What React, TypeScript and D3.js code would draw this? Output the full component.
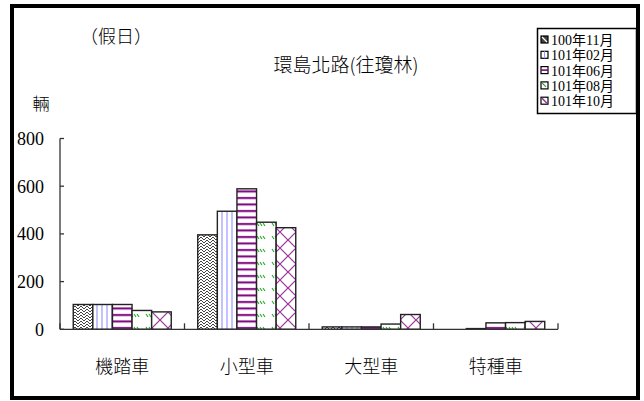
import React from 'react';
import * as d3 from 'd3';

// vehicle categories and monthly holiday counts
const categories = ['機踏車', '小型車', '大型車', '特種車'];
const seriesNames = ['100年11月', '101年02月', '101年06月', '101年08月', '101年10月'];
const s1 = [104, 396, 10, 0];
const s2 = [104, 495, 10, 3];
const s3 = [104, 589, 10, 27];
const s4 = [79, 449, 22, 28];
const s5 = [73, 426, 62, 33];
const seriesValues = [s1, s2, s3, s4, s5];
const yTicks = [0, 200, 400, 600, 800];

const W = 644;
const H = 401;
const plot = { left: 60, right: 558, top: 138.5, bottom: 329.3 };

const serifCjk = '"Liberation Serif", "Noto Sans CJK TC", serif';
const cjk = '"Noto Sans CJK TC", "Liberation Serif", serif';

function Patterns() {
  return (
    <defs>
      {/* dark herringbone */}
      <pattern id="pat0" patternUnits="userSpaceOnUse" width="6" height="6">
        <rect width="6" height="6" fill="#fff" />
        <path d="M0,3 L3,0 L6,3 M0,6 L3,3 L6,6" stroke="#444" strokeWidth="1" fill="none" />
      </pattern>
      {/* blue vertical lines */}
      <pattern id="pat1" patternUnits="userSpaceOnUse" width="5" height="4">
        <rect width="5" height="4" fill="#fff" />
        <line x1="2" y1="0" x2="2" y2="4" stroke="#9999ff" strokeWidth="1.2" />
      </pattern>
      {/* purple horizontal stripes */}
      <pattern id="pat2" patternUnits="userSpaceOnUse" width="4" height="6.5">
        <rect width="4" height="6.5" fill="#fff" />
        <rect y="2" width="4" height="2" fill="#800080" />
      </pattern>
      {/* green short dashes */}
      <pattern id="pat3" patternUnits="userSpaceOnUse" width="18" height="13">
        <rect width="18" height="13" fill="#fff" />
        <path d="M2,2 L4,5 M5,2 L7,5 M8,2 L10,5 M11,2 L13,5" stroke="#22aa22" strokeWidth="1.1" fill="none" />
      </pattern>
      {/* purple trellis */}
      <pattern id="pat4" patternUnits="userSpaceOnUse" width="16" height="16">
        <rect width="16" height="16" fill="#fff" />
        <path d="M0,0 L16,16 M16,0 L0,16" stroke="#993399" strokeWidth="1.2" fill="none" />
      </pattern>
    </defs>
  );
}

// small legend swatch marks
function Swatch({ i, x, y }: { i: number; x: number; y: number }) {
  const s = 7;
  const marks = [
    <path d={`M${x + 1},${y + 1} L${x + s - 1},${y + s - 1}`} stroke="#fff" strokeWidth={1.2} />,
    <line x1={x + s / 2} x2={x + s / 2} y1={y} y2={y + s} stroke="#9999ff" strokeWidth={1} />,
    <line x1={x} x2={x + s} y1={y + s / 2} y2={y + s / 2} stroke="#800080" strokeWidth={1.6} />,
    <path d={`M${x + 1},${y + 1} L${x + s - 2},${y + s - 2}`} stroke="#22aa22" strokeWidth={1.3} />,
    <path d={`M${x + 1},${y + 1} L${x + s - 1},${y + s - 1}`} stroke="#993399" strokeWidth={1.6} />,
  ];
  return (
    <g>
      <rect x={x} y={y} width={s} height={s} fill={i === 0 ? '#444' : '#fff'} stroke="#000" strokeWidth={1.2} />
      {marks[i]}
    </g>
  );
}

export default function App() {
  const x0 = d3.scaleBand().domain(categories).range([plot.left, plot.right]).paddingInner(0).paddingOuter(0);
  const inner = 98 / x0.bandwidth();
  const x1 = d3
    .scaleBand()
    .domain(seriesNames)
    .range([(x0.bandwidth() * (1 - inner)) / 2, (x0.bandwidth() * (1 + inner)) / 2]);
  const y = d3.scaleLinear().domain([0, 800]).range([plot.bottom, plot.top]);

  const boundaries = [...categories.map((c) => x0(c) as number), plot.right];

  return (
    <svg width={W} height={H} style={{ position: 'absolute', left: 0, top: 0 }}>
      <Patterns />
      <rect x={0} y={0} width={W} height={H} fill="#fff" />
      <rect x={12} y={6} width={626} height={392} fill="#fff" stroke="#000" strokeWidth={4} />

      <text x={116} y={43} fontSize={18} fontWeight={300} fontFamily={cjk} textAnchor="middle">（假日）</text>
      <text x={346} y={72} fontSize={19} fontWeight={300} fontFamily={cjk} textAnchor="middle">環島北路(往瓊林)</text>
      <text x={41} y={110} fontSize={17} fontWeight={300} fontFamily={cjk} textAnchor="middle">輛</text>

      {/* bars */}
      {seriesValues.map((vals, si) =>
        vals.map((v, ci) => {
          const bx = (x0(categories[ci]) as number) + (x1(seriesNames[si]) as number);
          return (
            <rect
              key={`${si}-${ci}`}
              x={bx}
              y={y(v)}
              width={x1.bandwidth()}
              height={plot.bottom - y(v)}
              fill={`url(#pat${si})`}
              stroke="#222"
              strokeWidth={1.4}
            />
          );
        })
      )}

      {/* y axis */}
      <line x1={plot.left} x2={plot.left} y1={plot.top} y2={plot.bottom} stroke="#333" strokeWidth={1.3} />
      {yTicks.map((t) => (
        <g key={t}>
          <line x1={plot.left} x2={plot.left + 4} y1={y(t)} y2={y(t)} stroke="#333" strokeWidth={1.3} />
          <text x={44} y={y(t)} dy="0.35em" fontSize={18} fontFamily={serifCjk} textAnchor="end">{t}</text>
        </g>
      ))}

      {/* x axis */}
      <line x1={plot.left} x2={plot.right} y1={plot.bottom} y2={plot.bottom} stroke="#333" strokeWidth={1.3} />
      {boundaries.map((bx, i) => (
        <line key={i} x1={bx} x2={bx} y1={plot.bottom} y2={plot.bottom - 6} stroke="#333" strokeWidth={1.3} />
      ))}
      {categories.map((c) => (
        <text
          key={c}
          x={(x0(c) as number) + x0.bandwidth() / 2}
          y={373}
          fontSize={18}
          fontWeight={300}
          fontFamily={cjk}
          textAnchor="middle"
        >
          {c}
        </text>
      ))}

      {/* legend */}
      <rect x={537.5} y={28.5} width={99} height={85} fill="#fff" stroke="#000" strokeWidth={1.5} />
      {seriesNames.map((n, i) => {
        const cy = 40 + i * 15.3;
        return (
          <g key={n}>
            <Swatch i={i} x={541} y={cy - 4} />
            <text x={551} y={cy} dy="0.35em" fontSize={14} fontFamily={serifCjk}>{n}</text>
          </g>
        );
      })}
    </svg>
  );
}
